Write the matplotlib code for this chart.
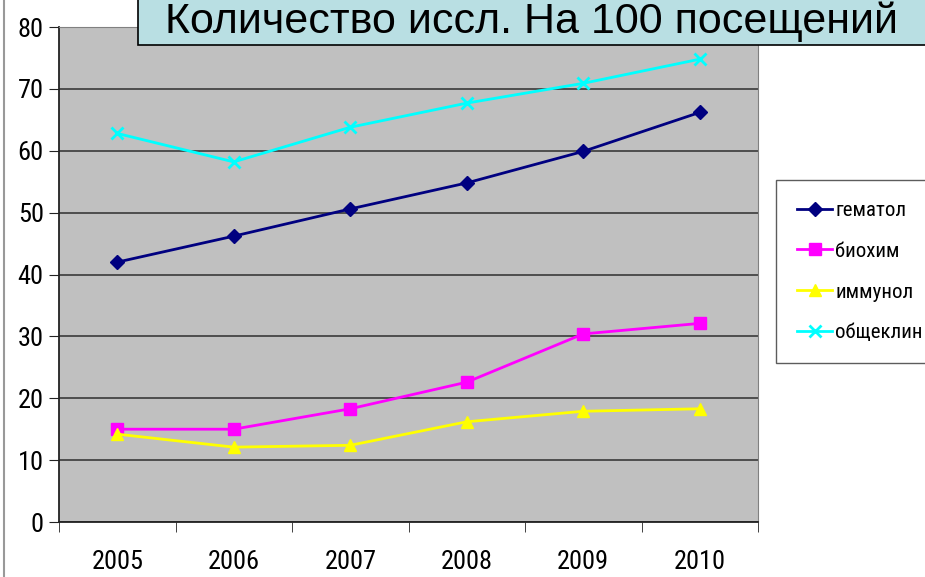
import numpy as np
import matplotlib.pyplot as plt
from matplotlib import font_manager
from matplotlib.ft2font import FT2Font
from matplotlib.patches import Rectangle

years = ['2005', '2006', '2007', '2008', '2009', '2010']
hematol = [42.0, 46.2, 50.6, 54.8, 59.9, 66.2]
biochem = [15.0, 15.0, 18.3, 22.6, 30.4, 32.1]
immunol = [14.2, 12.1, 12.4, 16.2, 17.9, 18.3]
obsheklin = [62.8, 58.2, 63.8, 67.7, 70.9, 74.8]
series_names = ['гематол', 'биохим', 'иммунол', 'общеклин']
title = 'Количество иссл. На 100 посещений'


def pick_narrow():
    # first condensed family that also has cyrillic glyphs
    wanted = ['Liberation Sans Narrow', 'Roboto Condensed', 'Archivo Narrow',
              'Open Sans Condensed', 'PT Sans Narrow', 'Noto Sans Display',
              'Asap Condensed', 'Barlow Semi Condensed']
    by_name = {}
    for f in font_manager.fontManager.ttflist:
        if f.style == 'normal':
            by_name.setdefault(f.name, f.fname)
    for name in wanted:
        if name in by_name:
            try:
                cmap = FT2Font(by_name[name]).get_charmap()
                if ord('щ') in cmap and ord('л') in cmap:
                    return name
            except Exception:
                pass
    return 'DejaVu Sans'


narrow = pick_narrow()
plt.rcParams['font.family'] = [narrow, 'DejaVu Sans']

fig = plt.figure(figsize=(9.25, 5.77), dpi=100)
ax = fig.add_axes([0.0638, 0.0953, 0.7557, 0.8579])
ax.set_facecolor('#c0c0c0')

x = np.arange(len(years))
styles = [
    (hematol, '#000080', 'D', 7),
    (biochem, '#ff00ff', 's', 8),
    (immunol, '#ffff00', '^', 9),
    (obsheklin, '#00ffff', 'x', 9),
]
for (vals, col, mk, ms), name in zip(styles, series_names):
    ax.plot(x, vals, color=col, marker=mk, markersize=ms, linewidth=2,
            markeredgewidth=2 if mk == 'x' else 1, label=name)

ax.set_xlim(-0.5, len(years) - 0.5)
ax.set_ylim(0, 80)
ax.set_yticks(range(0, 81, 10))
ax.set_yticklabels([str(v) for v in range(0, 81, 10)], fontsize=19)
ax.set_xticks(x)
ax.set_xticklabels(years, fontsize=19)
ax.set_xticks(np.arange(-0.5, len(years), 1), minor=True)
ax.tick_params(axis='x', which='major', length=0, pad=20)
ax.tick_params(axis='x', which='minor', length=7, direction='out', color='#222222')
ax.tick_params(axis='y', length=7, direction='out', color='#222222', pad=4)
ax.grid(axis='y', color='#3a3a3a', linewidth=1.2)
ax.set_axisbelow(True)
for side in ['top', 'right']:
    ax.spines[side].set_color('#808080')
for side in ['left', 'bottom']:
    ax.spines[side].set_color('#222222')
    ax.spines[side].set_linewidth(1.3)

leg = fig.legend(loc='upper left', bbox_to_anchor=(0.839, 0.688), fontsize=15,
                 frameon=True, fancybox=False, edgecolor='#333333',
                 labelspacing=1.05, handlelength=1.7, handletextpad=0.15,
                 borderpad=1.0, borderaxespad=0)
leg.get_frame().set_linewidth(1)

# title box runs off the right and top edges, like in the slide
fig.add_artist(Rectangle((0.149, 0.922), 0.9, 0.1, transform=fig.transFigure,
                         facecolor='#b9dfe3', edgecolor='black', linewidth=1.2,
                         zorder=5))
fig.text(0.575, 0.962, title, fontsize=31, ha='center', va='center',
         family=['Liberation Sans', 'DejaVu Sans'], zorder=6)

fig.add_artist(plt.Line2D([0.004, 0.004], [0, 1], color='#999999', linewidth=1.5))

fig.savefig('out.png', dpi=100)
